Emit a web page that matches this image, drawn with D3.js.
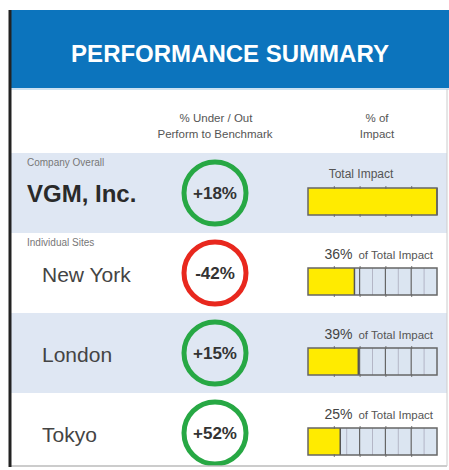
<!DOCTYPE html>
<html>
<head>
<meta charset="utf-8">
<script src="https://cdn.jsdelivr.net/npm/d3@7"></script>
<style>
  body { margin: 0; background: #fff; }
  svg { display: block; font-family: "Liberation Sans", Arial, sans-serif; }
</style>
</head>
<body>
<div class="main"></div>
<script>
//// Data
const sites = ['VGM, Inc.', 'New York', 'London', 'Tokyo'];
const groupLabels = ['Company Overall', 'Individual Sites', '', ''];
const performance = [18, -42, 15, 52];
const impact = [100, 36, 39, 25];
const impactTicks = [0, 20, 40, 60, 80, 100];
const impactGrid = [10, 20, 30, 40, 50, 60, 70, 80, 90];

const width = 449;
const height = 470;
const left = 10;
const right = 447;
const rowTop = 153;
const rowH = 80;

const svg = d3.select('.main').append('svg')
  .attr('width', width)
  .attr('height', height);

// header
svg.append('rect')
  .attr('x', left).attr('y', 10)
  .attr('width', width - left).attr('height', 78)
  .attr('fill', '#0c74bd');
svg.append('line')
  .attr('x1', left).attr('x2', width)
  .attr('y1', 89).attr('y2', 89)
  .attr('stroke', '#9cc3e4').attr('stroke-width', 1);
svg.append('text')
  .attr('x', 230).attr('y', 62)
  .attr('text-anchor', 'middle')
  .attr('fill', '#fff')
  .attr('font-weight', 'bold')
  .attr('font-size', 24)
  .text('PERFORMANCE SUMMARY');

// column headings
const colHead = svg.append('g')
  .attr('fill', '#555')
  .attr('font-size', 11.5)
  .attr('text-anchor', 'middle');
colHead.append('text').attr('x', 216).attr('y', 122).text('% Under / Out');
colHead.append('text').attr('x', 215).attr('y', 138).text('Perform to Benchmark');
colHead.append('text').attr('x', 377).attr('y', 122).text('% of');
colHead.append('text').attr('x', 377).attr('y', 138).text('Impact');

//// Scales
const yScale = d3.scaleBand()
  .domain(sites)
  .range([rowTop, rowTop + rowH * sites.length]);

const xScale = d3.scaleLinear()
  .domain([0, 100])
  .range([308, 437]);

const rows = svg.selectAll('g.row')
  .data(sites)
  .enter()
  .append('g')
  .attr('class', 'row')
  .attr('transform', d => `translate(0, ${yScale(d)})`);

rows.append('rect')
  .attr('x', left)
  .attr('width', right - left)
  .attr('height', yScale.bandwidth())
  .attr('fill', (d, i) => i % 2 === 0 ? '#dfe7f3' : '#fff');

rows.append('text')
  .attr('x', 27).attr('y', 13)
  .attr('fill', '#777')
  .attr('font-size', 10)
  .text((d, i) => groupLabels[i]);

rows.append('text')
  .attr('x', (d, i) => i === 0 ? 27 : 42)
  .attr('y', 49)
  .attr('fill', (d, i) => i === 0 ? '#2a2a2a' : '#444')
  .attr('font-weight', (d, i) => i === 0 ? 'bold' : 'normal')
  .attr('font-size', (d, i) => i === 0 ? 24 : 21)
  .text(d => d);

// performance circles
rows.append('circle')
  .attr('cx', 215).attr('cy', 40)
  .attr('r', 31)
  .attr('fill', 'none')
  .attr('stroke', (d, i) => performance[i] < 0 ? '#e8281e' : '#27a844')
  .attr('stroke-width', 5);

rows.append('text')
  .attr('x', 215).attr('y', 46)
  .attr('text-anchor', 'middle')
  .attr('fill', '#333')
  .attr('font-weight', 'bold')
  .attr('font-size', 17)
  .text((d, i) => (performance[i] > 0 ? '+' : '') + performance[i] + '%');

// impact labels
rows.filter((d, i) => i === 0).append('text')
  .attr('x', 361).attr('y', 25)
  .attr('text-anchor', 'middle')
  .attr('fill', '#555')
  .attr('font-size', 12)
  .text('Total Impact');

const lbl = rows.filter((d, i) => i > 0).append('text')
  .attr('x', 433).attr('y', 26)
  .attr('text-anchor', 'end')
  .attr('fill', '#555');
lbl.append('tspan')
  .attr('font-size', 14)
  .attr('fill', '#444')
  .text(d => impact[sites.indexOf(d)] + '%');
lbl.append('tspan')
  .attr('dx', 6)
  .attr('font-size', 11.5)
  .text('of Total Impact');

// impact bars
const barY = 35;
const barH = 27;

rows.append('rect')
  .attr('x', xScale(0)).attr('y', barY)
  .attr('width', xScale(100) - xScale(0)).attr('height', barH)
  .attr('fill', '#dbe5f1');

rows.each(function (d, i) {
  const g = d3.select(this);
  if (impact[i] < 100) {
    g.selectAll('line.grid')
      .data(impactGrid)
      .enter()
      .append('line')
      .attr('class', 'grid')
      .attr('x1', v => xScale(v)).attr('x2', v => xScale(v))
      .attr('y1', barY).attr('y2', barY + barH)
      .attr('stroke', v => v % 20 === 0 ? '#666' : '#aab')
      .attr('stroke-width', v => v % 20 === 0 ? 1.2 : 0.8);
  }
});

rows.append('rect')
  .attr('x', xScale(0)).attr('y', barY)
  .attr('width', (d, i) => xScale(impact[i]) - xScale(0))
  .attr('height', barH)
  .attr('fill', '#ffeb00');

rows.each(function () {
  const axis = d3.axisBottom(xScale)
    .tickValues(impactTicks.slice(1, -1))
    .tickSize(barH + 4)
    .tickFormat('');
  d3.select(this).append('g')
    .attr('transform', `translate(0, ${barY - 2})`)
    .call(axis)
    .call(a => a.select('.domain').remove())
    .call(a => a.selectAll('.tick line').attr('stroke', '#777').attr('stroke-width', 1)
      .attr('stroke-dasharray', `3,${barH - 2},3`));
});

rows.append('line')
  .attr('x1', (d, i) => xScale(impact[i])).attr('x2', (d, i) => xScale(impact[i]))
  .attr('y1', barY).attr('y2', barY + barH)
  .attr('stroke', '#555').attr('stroke-width', 1.5);

rows.append('rect')
  .attr('x', xScale(0)).attr('y', barY)
  .attr('width', xScale(100) - xScale(0)).attr('height', barH)
  .attr('fill', 'none')
  .attr('stroke', '#666')
  .attr('stroke-width', 1.5);

// frame
svg.append('rect')
  .attr('x', 0).attr('y', 466)
  .attr('width', width).attr('height', 4)
  .attr('fill', '#fff');
svg.append('line')
  .attr('x1', left).attr('x2', right)
  .attr('y1', 466).attr('y2', 466)
  .attr('stroke', '#bbb').attr('stroke-width', 1.5);
svg.append('line')
  .attr('x1', right).attr('x2', right)
  .attr('y1', 89).attr('y2', 466)
  .attr('stroke', '#ccc').attr('stroke-width', 1);
svg.append('line')
  .attr('x1', left).attr('x2', left)
  .attr('y1', 10).attr('y2', 467)
  .attr('stroke', '#222').attr('stroke-width', 3);
</script>
</body>
</html>
